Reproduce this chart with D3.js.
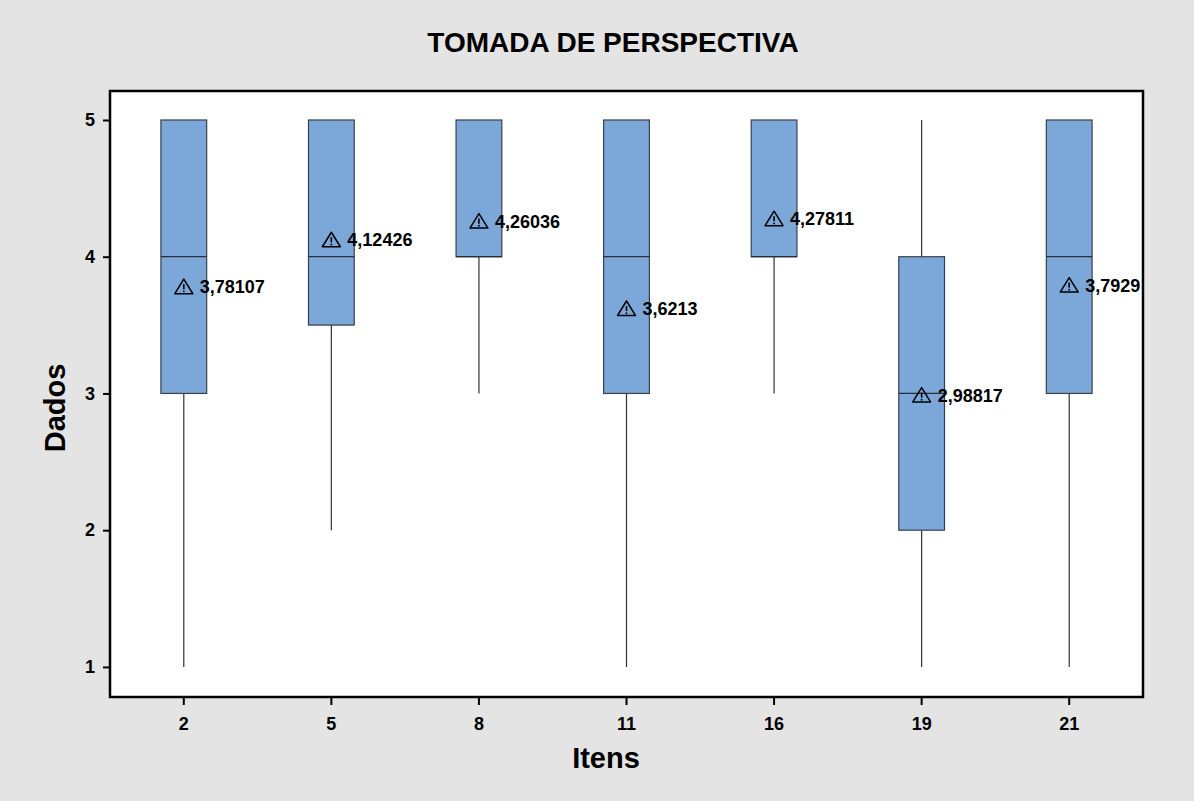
<!DOCTYPE html>
<html>
<head>
<meta charset="utf-8">
<script src="https://cdn.jsdelivr.net/npm/d3@7"></script>
<style>
  html, body { margin: 0; padding: 0; background: #e4e4e4; }
  svg { display: block; }
  text { font-family: "Liberation Sans", Arial, sans-serif; font-weight: bold; fill: #000; }
</style>
</head>
<body>
<script>
const items   = ["2", "5", "8", "11", "16", "19", "21"];
const mins    = [1, 2, 3, 1, 3, 1, 1];
const q1s     = [3, 3.5, 4, 3, 4, 2, 3];
const medians = [4, 4, 4, 4, 4, 3, 4];
const q3s     = [5, 5, 5, 5, 5, 4, 5];
const maxs    = [5, 5, 5, 5, 5, 5, 5];
const means   = [3.78107, 4.12426, 4.26036, 3.6213, 4.27811, 2.98817, 3.7929];
const meanLabels = ["3,78107", "4,12426", "4,26036", "3,6213", "4,27811", "2,98817", "3,7929"];
const yTicks  = [1, 2, 3, 4, 5];

const W = 1194, H = 801;
const mLeft = 110, mRight = 1143, mTop = 91, mBottom = 697;

const svg = d3.select("body").append("svg").attr("width", W).attr("height", H);
svg.append("rect").attr("width", W).attr("height", H).attr("fill", "#e4e4e4");

const x = d3.scaleBand().domain(items).range([mLeft, mRight]).padding(0);
const y = d3.scaleLinear().domain([0.78, 5.212]).range([mBottom, mTop]);
const bw = x.bandwidth() * 0.31;
const cx = d => x(d) + x.bandwidth() / 2;

svg.append("defs").append("clipPath").attr("id", "clip")
  .append("rect").attr("x", mLeft).attr("y", mTop).attr("width", mRight - mLeft).attr("height", mBottom - mTop);

svg.append("rect").attr("x", mLeft).attr("y", mTop).attr("width", mRight - mLeft).attr("height", mBottom - mTop)
  .attr("fill", "#ffffff");

const data = items.map((k, i) => ({ k, min: mins[i], q1: q1s[i], med: medians[i], q3: q3s[i], max: maxs[i], mean: means[i], lab: meanLabels[i] }));

const g = svg.append("g").attr("clip-path", "url(#clip)");

// whiskers
g.selectAll(".wlo").data(data).join("line")
  .attr("x1", d => cx(d.k)).attr("x2", d => cx(d.k))
  .attr("y1", d => y(d.min)).attr("y2", d => y(d.q1))
  .attr("stroke", "#333").attr("stroke-width", 1.2);
g.selectAll(".whi").data(data).join("line")
  .attr("x1", d => cx(d.k)).attr("x2", d => cx(d.k))
  .attr("y1", d => y(d.q3)).attr("y2", d => y(d.max))
  .attr("stroke", "#333").attr("stroke-width", 1.2);

// boxes
g.selectAll(".box").data(data).join("rect")
  .attr("x", d => cx(d.k) - bw / 2).attr("width", bw)
  .attr("y", d => y(d.q3)).attr("height", d => y(d.q1) - y(d.q3))
  .attr("fill", "#7ba7d9").attr("stroke", "#3a3f4a").attr("stroke-width", 1.2);

// medians
g.selectAll(".med").data(data).join("line")
  .attr("x1", d => cx(d.k) - bw / 2).attr("x2", d => cx(d.k) + bw / 2)
  .attr("y1", d => y(d.med)).attr("y2", d => y(d.med))
  .attr("stroke", "#2a2f3a").attr("stroke-width", 1.2);

// mean symbols (warning triangle)
const sym = g.selectAll(".sym").data(data).join("g")
  .attr("transform", d => `translate(${cx(d.k)},${y(d.mean)})`);
sym.append("path")
  .attr("d", "M0,-7.5 L9,7 L-9,7 Z")
  .attr("fill", "none").attr("stroke", "#000").attr("stroke-width", 1.5).attr("stroke-linejoin", "round");
sym.append("line").attr("x1", 0).attr("x2", 0).attr("y1", -2.5).attr("y2", 2.6)
  .attr("stroke", "#000").attr("stroke-width", 1.6);
sym.append("circle").attr("cx", 0).attr("cy", 4.7).attr("r", 0.95).attr("fill", "#000");

g.selectAll(".mlab").data(data).join("text")
  .attr("x", d => cx(d.k) + 16).attr("y", d => y(d.mean))
  .attr("dy", "0.36em")
  .style("font-size", "18px")
  .text(d => d.lab);

// frame
svg.append("rect").attr("x", mLeft).attr("y", mTop).attr("width", mRight - mLeft).attr("height", mBottom - mTop)
  .attr("fill", "none").attr("stroke", "#000").attr("stroke-width", 2.5);

// axes
const yAxis = svg.append("g").attr("transform", `translate(${mLeft},0)`)
  .call(d3.axisLeft(y).tickValues(yTicks).tickSize(7).tickPadding(8).tickFormat(d3.format("d")));
yAxis.select(".domain").remove();
yAxis.selectAll(".tick line").attr("stroke", "#000").attr("stroke-width", 2);
yAxis.selectAll(".tick text").style("font-size", "18px").style("font-family", "Liberation Sans, Arial, sans-serif").style("font-weight", "bold");

const xAxis = svg.append("g").attr("transform", `translate(0,${mBottom})`)
  .call(d3.axisBottom(x).tickSize(8).tickPadding(12));
xAxis.select(".domain").remove();
xAxis.selectAll(".tick line").attr("stroke", "#000").attr("stroke-width", 2);
xAxis.selectAll(".tick text").style("font-size", "18px").style("font-family", "Liberation Sans, Arial, sans-serif").style("font-weight", "bold");

// titles
svg.append("text").attr("x", 613).attr("y", 52).attr("text-anchor", "middle")
  .style("font-size", "28px").text("TOMADA DE PERSPECTIVA");
svg.append("text").attr("x", 606).attr("y", 768).attr("text-anchor", "middle")
  .style("font-size", "29px").text("Itens");
svg.append("text").attr("transform", "translate(65,408) rotate(-90)").attr("text-anchor", "middle")
  .style("font-size", "29px").text("Dados");
</script>
</body>
</html>
